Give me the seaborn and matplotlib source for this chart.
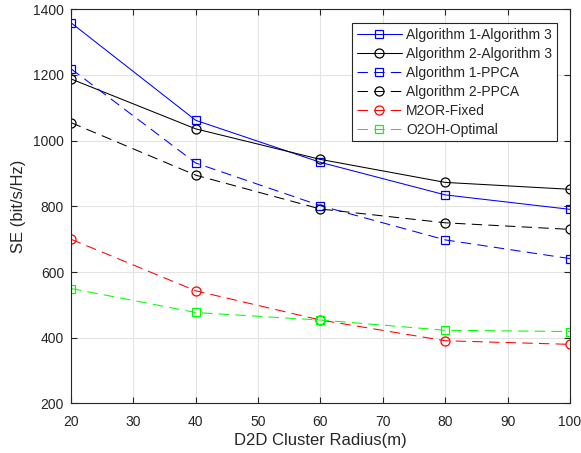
import matplotlib
matplotlib.use("Agg")
import matplotlib.pyplot as plt
import seaborn as sns
import pandas as pd

# Cluster radius (m)
radius = [20, 40, 60, 80, 100]

# Spectral efficiency (bit/s/Hz) per scheme
alg1_alg3 = [1359, 1062, 934, 835, 791]
alg2_alg3 = [1188, 1036, 943, 873, 852]
alg1_ppca = [1219, 932, 802, 698, 641]
alg2_ppca = [1055, 895, 792, 750, 730]
m2or_fixed = [700, 543, 454, 391, 380]
o2oh_optimal = [550, 477, 454, 423, 419]

labels = ["Algorithm 1-Algorithm 3", "Algorithm 2-Algorithm 3",
          "Algorithm 1-PPCA", "Algorithm 2-PPCA",
          "M2OR-Fixed", "O2OH-Optimal"]

series = [alg1_alg3, alg2_alg3, alg1_ppca, alg2_ppca, m2or_fixed, o2oh_optimal]
colors = ["#0000ff", "#000000", "#0000ff", "#000000", "#ff0000", "#00ff00"]
markers = ["s", "o", "s", "o", "o", "s"]
solid = [True, True, False, False, False, False]

sns.set_style("whitegrid")
plt.rcParams["font.family"] = ["Liberation Sans", "DejaVu Sans"]
plt.rcParams["font.size"] = 10

fig = plt.figure(figsize=(5.81, 4.53), dpi=100)
ax = fig.add_axes([0.1222, 0.1093, 0.8588, 0.8702])

for vals, lab, col, mk, sol in zip(series, labels, colors, markers, solid):
    df = pd.DataFrame({"r": radius, "se": vals})
    kw = dict(linestyle="-") if sol else dict(linestyle=(0, (10, 6)))
    sns.lineplot(data=df, x="r", y="se", ax=ax, color=col, label=lab,
                 marker=mk, markersize=6.5 if mk == "o" else 5.2,
                 markerfacecolor="none", markeredgecolor=col,
                 markeredgewidth=0.9, linewidth=0.75, **kw)

ax.set_xlim(20, 100)
ax.set_ylim(200, 1400)
ax.set_xticks(range(20, 101, 10))
ax.set_yticks(range(200, 1401, 200))
ax.set_xlabel("D2D Cluster Radius(m)", fontsize=12, color="#262626",
              labelpad=3)
ax.set_ylabel("SE (bit/s/Hz)", fontsize=12, color="#262626", labelpad=5)

ax.grid(True, color="#e3e3e3", linewidth=0.8)
for s in ax.spines.values():
    s.set_visible(True)
    s.set_color("#262626")
    s.set_linewidth(0.8)
ax.tick_params(direction="in", length=4, width=0.8, colors="#262626",
               labelsize=10, top=True, right=True, bottom=True, left=True)
ax.tick_params(axis="x", pad=8)
ax.tick_params(axis="y", pad=5)

leg = ax.legend(loc="upper right", bbox_to_anchor=(0.974, 0.966),
                borderaxespad=0, frameon=True, fancybox=False, framealpha=1,
                edgecolor="#262626", fontsize=10, handlelength=3.25,
                labelspacing=0.36, borderpad=0.35, handletextpad=0.3)
leg.get_frame().set_linewidth(0.8)

fig.savefig("out.png", dpi=100)
